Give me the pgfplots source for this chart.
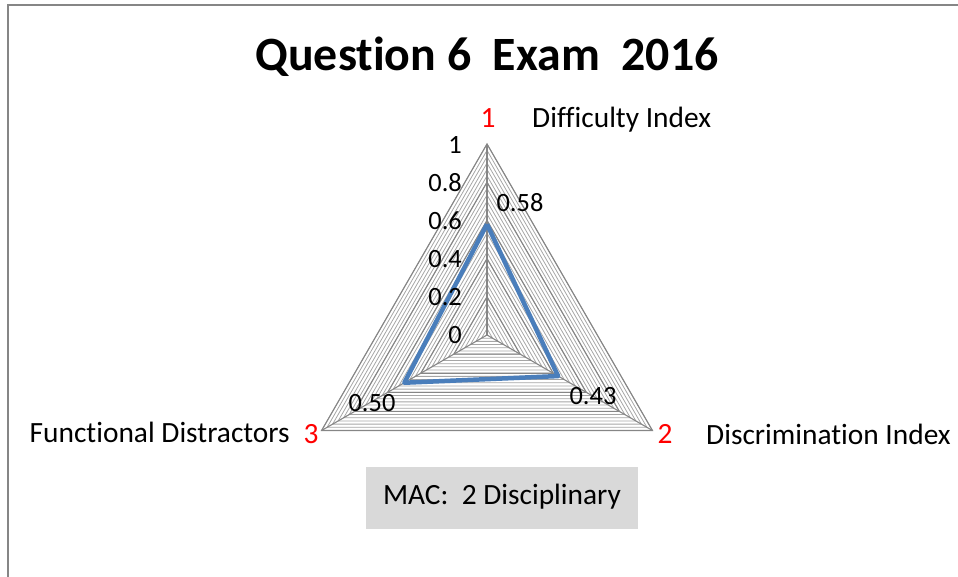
\documentclass[border=0pt]{standalone}
\usepackage{pgfplots}
\pgfplotsset{compat=1.18}
\usepackage{fontspec}
\setmainfont{Carlito}[Ligatures={NoCommon}]
\definecolor{ringgray}{HTML}{A6A6A6}
\definecolor{majgray}{HTML}{868686}
\definecolor{seriesblue}{HTML}{4A7EBB}
\definecolor{boxgray}{HTML}{D9D9D9}
\definecolor{framegray}{HTML}{868686}

\begin{document}
\begin{tikzpicture}[x=1bp,y=1bp]
\useasboundingbox (0,0) rectangle (958,-577);
% chart frame (top and left edges visible)
\draw[framegray, line width=2] (8,-577) -- (8,-5) -- (958,-5);

\begin{axis}[
    at={(487bp,-335bp)}, anchor=center,
    x=191bp, y=191bp,
    xmin=-1.1, xmax=1.1, ymin=-1.1, ymax=1.1,
    hide axis, clip=false,
]
% triangular rings, every 1/30, darker every 0.2
\pgfplotsinvokeforeach{1,...,30}{
  \draw[ringgray, line width=0.8bp]
    (axis cs:0,{#1/30}) -- (axis cs:{0.8660254*#1/30},{-0.5*#1/30})
    -- (axis cs:{-0.8660254*#1/30},{-0.5*#1/30}) -- cycle;
}
\pgfplotsinvokeforeach{6,12,18,24,30}{
  \draw[majgray, line width=1.1bp]
    (axis cs:0,{#1/30}) -- (axis cs:{0.8660254*#1/30},{-0.5*#1/30})
    -- (axis cs:{-0.8660254*#1/30},{-0.5*#1/30}) -- cycle;
}
% spokes
\draw[majgray, line width=1.1bp] (axis cs:0,0) -- (axis cs:0,1);
\draw[majgray, line width=1.1bp] (axis cs:0,0) -- (axis cs:0.8660254,-0.5);
\draw[majgray, line width=1.1bp] (axis cs:0,0) -- (axis cs:-0.8660254,-0.5);

% series: Difficulty, Discrimination, Functional Distractors
\addplot[seriesblue, line width=4.5bp, line join=round, data cs=polar]
  coordinates {(90,0.58) (-30,0.43) (210,0.50) (90,0.58)};
\end{axis}

% title
\node[font=\fontsize{48}{52}\selectfont\bfseries] at (487,-57) {Question 6\ \ Exam\ \ 2016};

% radial tick labels
\begin{scope}[every node/.style={anchor=east, font=\fontsize{26.5}{29}\selectfont, inner sep=0pt}]
\node at (462,-145) {1};
\node at (462,-183) {0.8};
\node at (462,-221) {0.6};
\node at (462,-259) {0.4};
\node at (462,-297) {0.2};
\node at (462,-335) {0};
\end{scope}

% data labels
\begin{scope}[every node/.style={font=\fontsize{26.5}{29}\selectfont, inner sep=0pt}]
\node at (520,-203) {0.58};
\node at (593,-396) {0.43};
\node at (372,-403) {0.50};
\end{scope}

% category labels
\begin{scope}[every node/.style={font=\fontsize{29.5}{33}\selectfont, inner sep=0pt}]
\node[red] at (488,-118) {1};
\node[anchor=west] at (532,-120) {Difficulty Index};
\node[red] at (665,-434) {2};
\node[anchor=west] at (706,-434) {Discrimination Index};
\node[anchor=east] at (290,-432) {Functional Distractors};
\node[red] at (311,-434) {3};
\end{scope}

% text box
\fill[boxgray] (366,-467) rectangle (638,-529);
\node[font=\fontsize{29.5}{33}\selectfont] at (502,-497) {MAC:\ \ 2 Disciplinary};
\end{tikzpicture}
\end{document}
